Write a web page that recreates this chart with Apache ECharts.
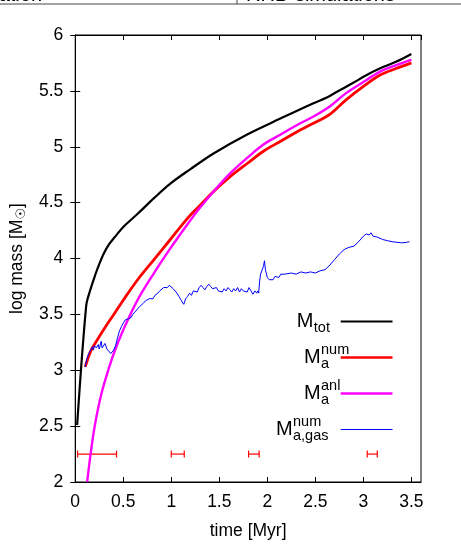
<!DOCTYPE html>
<html><head><meta charset="utf-8">
<script src="https://cdn.jsdelivr.net/npm/echarts@6.0.0/dist/echarts.min.js"></script>
<style>html,body{margin:0;padding:0;background:#fff}#c{width:461px;height:550px}</style>
</head><body><div id="c"></div><script>
// ---- data ----
const xTickLabels = ['0','0.5','1','1.5','2','2.5','3','3.5'];
const yTickLabels = ['2','2.5','3','3.5','4','4.5','5','5.5','6'];

const totTime = [0.02,0.114,0.15,0.207,0.25,0.30,0.35,0.41,0.51,0.65,0.82,0.99,1.20,1.44,1.79,2.13,2.48,2.62,2.72,2.89,3.03,3.17,3.34,3.50];
const totMass = [2.51,3.575,3.70,3.85,3.95,4.05,4.125,4.19,4.29,4.40,4.54,4.67,4.80,4.94,5.11,5.25,5.39,5.44,5.49,5.57,5.64,5.70,5.76,5.83];

const numTime = [0.104,0.166,0.235,0.30,0.41,0.51,0.65,0.82,0.99,1.18,1.27,1.44,1.61,1.79,1.96,2.13,2.31,2.48,2.65,2.82,3.00,3.17,3.34,3.50];
const numMass = [3.03,3.18,3.28,3.37,3.51,3.64,3.81,3.99,4.17,4.37,4.45,4.60,4.73,4.85,4.96,5.045,5.135,5.21,5.29,5.42,5.54,5.64,5.70,5.75];

const anlTime = [0.124,0.166,0.207,0.27,0.34,0.41,0.51,0.65,0.82,0.99,1.18,1.29,1.44,1.61,1.79,1.96,2.13,2.31,2.48,2.65,2.82,3.00,3.17,3.34,3.50];
const anlMass = [2.0,2.29,2.52,2.78,2.99,3.17,3.38,3.63,3.87,4.09,4.32,4.445,4.60,4.76,4.90,5.02,5.105,5.195,5.27,5.36,5.48,5.58,5.67,5.73,5.78];

const gasTime = [0.104,0.12,0.14,0.16,0.18,0.19,0.20,0.22,0.24,0.25,0.27,0.28,0.30,0.31,0.33,0.35,0.37,0.38,0.40,0.42,0.44,0.46,0.48,0.50,0.52,0.55,0.58,0.60,0.62,0.65,0.67,0.69,0.71,0.73,0.75,0.77,0.79,0.81,0.83,0.86,0.88,0.90,0.92,0.94,0.96,0.98,1.00,1.02,1.04,1.06,1.08,1.10,1.12,1.13,1.15,1.17,1.19,1.21,1.23,1.25,1.27,1.29,1.31,1.33,1.35,1.37,1.39,1.41,1.43,1.45,1.47,1.49,1.51,1.53,1.55,1.57,1.59,1.61,1.63,1.65,1.67,1.69,1.71,1.73,1.75,1.77,1.79,1.81,1.83,1.85,1.87,1.89,1.90,1.91,1.92,1.93,1.95,1.96,1.97,1.98,2.00,2.02,2.04,2.06,2.08,2.10,2.12,2.14,2.16,2.18,2.20,2.25,2.30,2.35,2.40,2.45,2.50,2.55,2.60,2.65,2.70,2.75,2.80,2.85,2.90,2.95,3.00,3.03,3.06,3.08,3.10,3.12,3.15,3.20,3.25,3.30,3.35,3.40,3.45,3.48];
const gasMass = [3.03,3.10,3.15,3.18,3.21,3.18,3.22,3.20,3.23,3.19,3.26,3.20,3.21,3.24,3.19,3.18,3.15,3.14,3.18,3.22,3.29,3.35,3.39,3.42,3.45,3.46,3.47,3.50,3.52,3.55,3.57,3.56,3.60,3.62,3.61,3.64,3.65,3.64,3.67,3.69,3.71,3.70,3.74,3.75,3.74,3.76,3.75,3.73,3.74,3.69,3.66,3.63,3.62,3.59,3.64,3.66,3.69,3.67,3.71,3.72,3.70,3.74,3.76,3.74,3.72,3.75,3.77,3.75,3.73,3.72,3.74,3.71,3.72,3.70,3.73,3.71,3.74,3.72,3.70,3.73,3.71,3.74,3.70,3.73,3.71,3.72,3.70,3.74,3.71,3.68,3.71,3.69,3.71,3.69,3.80,3.86,3.87,3.93,3.98,3.90,3.83,3.81,3.82,3.81,3.84,3.85,3.83,3.86,3.87,3.86,3.87,3.87,3.86,3.88,3.87,3.88,3.87,3.89,3.90,3.94,3.99,4.04,4.08,4.10,4.11,4.15,4.20,4.22,4.21,4.23,4.20,4.21,4.19,4.17,4.16,4.15,4.145,4.14,4.145,4.15];

// error bars: low, high, level
const errLow  = [0.025, 1.0, 1.805, 3.04];
const errHigh = [0.43, 1.135, 1.915, 3.145];
const errLevel = [2.25, 2.25, 2.25, 2.25];

const FONT = 'Liberation Sans, Arial, Helvetica, sans-serif';
const FS = 17.5;
const zip = (a, b) => a.map((v, i) => [v, b[i]]);

const chart = echarts.init(document.getElementById('c'), null, {renderer: 'canvas'});

function xAxisCfg(pos, withLabels) {
  return {
    type: 'value', min: 0, max: 3.6, interval: 0.5, position: pos,
    axisLine: {show: true, lineStyle: {color: '#000', width: 1}},
    axisTick: {show: true, inside: true, length: 5, lineStyle: {color: '#000', width: 1}},
    axisLabel: {show: withLabels, showMaxLabel: false, fontSize: FS, color: '#000', fontFamily: FONT, margin: 11,
      formatter: v => { const i = Math.round(v / 0.5); return (Math.abs(v - i*0.5) < 1e-6 && xTickLabels[i]) ? xTickLabels[i] : ''; }},
    splitLine: {show: false},
    name: withLabels ? 'time [Myr]' : '', nameLocation: 'middle', nameGap: 40,
    nameTextStyle: {fontSize: FS, color: '#000', fontFamily: FONT}
  };
}
function yAxisCfg(pos, withLabels) {
  return {
    type: 'value', min: 2, max: 6, interval: 0.5, position: pos,
    axisLine: {show: true, lineStyle: {color: '#000', width: 1}},
    axisTick: {show: true, inside: true, length: 5, lineStyle: {color: '#000', width: 1}},
    axisLabel: {show: withLabels, fontSize: FS, color: '#000', fontFamily: FONT, margin: 12,
      formatter: v => { const i = Math.round((v - 2) / 0.5); return yTickLabels[i] || ''; }},
    splitLine: {show: false},
    name: withLabels ? '{a|log mass [M}{s|☉}{a|]}' : '', nameLocation: 'middle', nameGap: 46,
    nameTextStyle: {fontSize: FS, color: '#000', fontFamily: FONT,
      rich: {a: {fontSize: FS, fontFamily: FONT, color: '#000'},
             s: {fontSize: 13, fontFamily: 'DejaVu Sans', color: '#000', padding: [9,0,0,0]}}}
  };
}

const legendItems = [
  {m: 'M', sub: 'tot', sup: '', color: '#000', w: 2.2, y: 321.5, xs: 313.5},
  {m: 'M', sub: 'a', sup: 'num', color: '#ff0000', w: 2.6, y: 357.5, xs: 320.7},
  {m: 'M', sub: 'a', sup: 'anl', color: '#ff00ff', w: 2.6, y: 393.5, xs: 320.7},
  {m: 'M', sub: 'a,gas', sup: 'num', color: '#0000ff', w: 1, y: 429.5, xs: 292.7}
];
const graphics = [];
legendItems.forEach(it => {
  graphics.push({type: 'text', x: it.xs, y: it.y, style: {text: it.m, x: 0, y: 0, font: '20px ' + FONT, fill: '#000', align: 'right', verticalAlign: 'middle', textAlign: 'right', textVerticalAlign: 'middle'}});
  graphics.push({type: 'text', x: it.xs + 0.3, y: it.y + 6.5, style: {text: it.sub, x: 0, y: 0, font: '14.5px ' + FONT, fill: '#000', align: 'left', verticalAlign: 'middle', textAlign: 'left', textVerticalAlign: 'middle'}});
  if (it.sup) graphics.push({type: 'text', x: it.xs + 0.3, y: it.y - 8, style: {text: it.sup, x: 0, y: 0, font: '14.5px ' + FONT, fill: '#000', align: 'left', verticalAlign: 'middle', textAlign: 'left', textVerticalAlign: 'middle'}});
  graphics.push({type: 'line', shape: {x1: 340.7, y1: it.y, x2: 392.5, y2: it.y}, style: {stroke: it.color, lineWidth: it.w}});
});
// clipped header from the page above
graphics.push({type: 'text', x: 42, y: 5, style: {text: 'ation', x: 0, y: 0, font: '20px ' + FONT, fill: '#000', align: 'right', verticalAlign: 'bottom', textAlign: 'right', textVerticalAlign: 'bottom'}});
graphics.push({type: 'text', x: 246, y: 5, style: {text: 'RHD simulations', x: 0, y: 0, font: '20px ' + FONT, fill: '#000', align: 'left', verticalAlign: 'bottom', textAlign: 'left', textVerticalAlign: 'bottom'}});
graphics.push({type: 'line', shape: {x1: 0, y1: 4, x2: 461, y2: 4}, style: {stroke: '#444', lineWidth: 1}});
graphics.push({type: 'line', shape: {x1: 237, y1: 0, x2: 237, y2: 4}, style: {stroke: '#444', lineWidth: 1}});

chart.setOption({
  animation: false,
  backgroundColor: '#fff',
  grid: {left: 74, right: 40, top: 35, bottom: 68, show: true, borderColor: '#000', borderWidth: 1},
  xAxis: [xAxisCfg('bottom', true), xAxisCfg('top', false)],
  yAxis: [yAxisCfg('left', true), yAxisCfg('right', false)],
  graphic: graphics,
  series: [
    {type: 'line', name: 'Mtot', data: zip(totTime, totMass), symbol: 'none', smooth: 0.35,
     lineStyle: {color: '#000', width: 2.2}, itemStyle: {color: '#000'}},
    {type: 'line', name: 'Ma_num', data: zip(numTime, numMass), symbol: 'none', smooth: 0.35,
     lineStyle: {color: '#ff0000', width: 2.8}, itemStyle: {color: '#ff0000'}},
    {type: 'line', name: 'Ma_anl', data: zip(anlTime, anlMass), symbol: 'none', smooth: 0.35,
     lineStyle: {color: '#ff00ff', width: 2.4}, itemStyle: {color: '#ff00ff'}},
    {type: 'line', name: 'Ma_gas', data: zip(gasTime, gasMass), symbol: 'none',
     lineStyle: {color: '#0000ff', width: 1}, itemStyle: {color: '#0000ff'}},
    {type: 'custom', name: 'err', data: errLow.map((l, i) => [l, errHigh[i], errLevel[i]]),
     encode: {x: [0, 1], y: 2},
     renderItem: (params, api) => {
       const p0 = api.coord([api.value(0), api.value(2)]);
       const p1 = api.coord([api.value(1), api.value(2)]);
       const h = 3.5;
       const st = {stroke: '#ff0000', lineWidth: 1.2};
       return {type: 'group', children: [
         {type: 'line', shape: {x1: p0[0], y1: p0[1], x2: p1[0], y2: p1[1]}, style: st},
         {type: 'line', shape: {x1: p0[0], y1: p0[1]-h, x2: p0[0], y2: p0[1]+h}, style: st},
         {type: 'line', shape: {x1: p1[0], y1: p1[1]-h, x2: p1[0], y2: p1[1]+h}, style: st}
       ]};
     }}
  ]
});
</script></body></html>
